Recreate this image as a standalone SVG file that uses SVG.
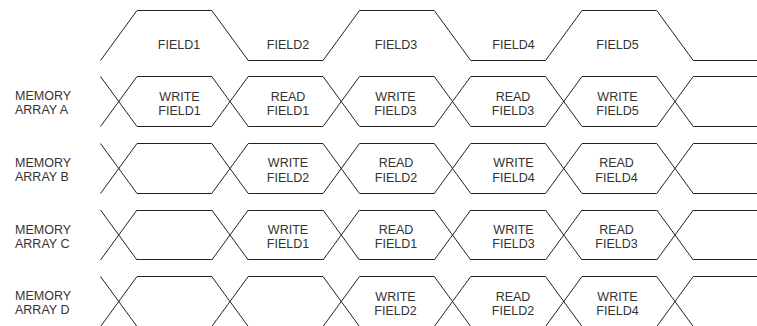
<svg xmlns="http://www.w3.org/2000/svg" width="757" height="326" viewBox="0 0 757 326">
<style>
.w{fill:none;stroke:#222;stroke-width:1;stroke-linejoin:miter}
.t{font-family:"Liberation Sans",Arial,sans-serif;font-size:12.5px;fill:#333}
.c{text-anchor:middle}
</style>
<rect width="757" height="326" fill="#fff"/>
<g id="field-signal">
<path class="w" d="M100.5,60.5 L137,10.5 L211.75,10.5 L248.25,60.5 L323,60.5 L359.5,10.5 L434.25,10.5 L470.75,60.5 L545.5,60.5 L582,10.5 L656.75,10.5 L693.25,60.5 L757,60.5"/>
<g class="t c">
<text x="179" y="49">FIELD1</text>
<text x="288" y="49">FIELD2</text>
<text x="396" y="49">FIELD3</text>
<text x="513.5" y="49">FIELD4</text>
<text x="617.5" y="49">FIELD5</text>
</g>
</g>
<g id="array-a">
<path class="w" d="M100.5,76.5 L137,126.5 M100.5,126.5 L137,76.5 M211.75,76.5 L248.25,126.5 M211.75,126.5 L248.25,76.5 M323,76.5 L359.5,126.5 M323,126.5 L359.5,76.5 M434.25,76.5 L470.75,126.5 M434.25,126.5 L470.75,76.5 M545.5,76.5 L582,126.5 M545.5,126.5 L582,76.5 M656.75,76.5 L693.25,126.5 M656.75,126.5 L693.25,76.5 M137,76.5 H211.75 M248.25,76.5 H323 M359.5,76.5 H434.25 M470.75,76.5 H545.5 M582,76.5 H656.75 M693.25,76.5 H757 M137,126.5 H211.75 M248.25,126.5 H323 M359.5,126.5 H434.25 M470.75,126.5 H545.5 M582,126.5 H656.75 M693.25,126.5 H757"/>
<text class="t" x="15" y="100">MEMORY</text>
<text class="t" x="15" y="114">ARRAY A</text>
<g class="t c">
<text x="179.5" y="100.5">WRITE</text><text x="179.5" y="114.5">FIELD1</text>
<text x="288" y="100.5">READ</text><text x="288" y="114.5">FIELD1</text>
<text x="395.5" y="100.5">WRITE</text><text x="395.5" y="114.5">FIELD3</text>
<text x="513" y="100.5">READ</text><text x="513" y="114.5">FIELD3</text>
<text x="617.5" y="100.5">WRITE</text><text x="617.5" y="114.5">FIELD5</text>
</g>
</g>
<g id="array-b">
<path class="w" d="M100.5,143.5 L137,193.5 M100.5,193.5 L137,143.5 M211.75,143.5 L248.25,193.5 M211.75,193.5 L248.25,143.5 M323,143.5 L359.5,193.5 M323,193.5 L359.5,143.5 M434.25,143.5 L470.75,193.5 M434.25,193.5 L470.75,143.5 M545.5,143.5 L582,193.5 M545.5,193.5 L582,143.5 M656.75,143.5 L693.25,193.5 M656.75,193.5 L693.25,143.5 M137,143.5 H211.75 M248.25,143.5 H323 M359.5,143.5 H434.25 M470.75,143.5 H545.5 M582,143.5 H656.75 M693.25,143.5 H757 M137,193.5 H211.75 M248.25,193.5 H323 M359.5,193.5 H434.25 M470.75,193.5 H545.5 M582,193.5 H656.75 M693.25,193.5 H757"/>
<text class="t" x="15" y="167">MEMORY</text>
<text class="t" x="15" y="181">ARRAY B</text>
<g class="t c">
<text x="288" y="167.3">WRITE</text><text x="288" y="181.5">FIELD2</text>
<text x="396" y="167.3">READ</text><text x="396" y="181.5">FIELD2</text>
<text x="513.5" y="167.3">WRITE</text><text x="513.5" y="181.5">FIELD4</text>
<text x="616.5" y="167.3">READ</text><text x="616.5" y="181.5">FIELD4</text>
</g>
</g>
<g id="array-c">
<path class="w" d="M100.5,210 L137,260 M100.5,260 L137,210 M211.75,210 L248.25,260 M211.75,260 L248.25,210 M323,210 L359.5,260 M323,260 L359.5,210 M434.25,210 L470.75,260 M434.25,260 L470.75,210 M545.5,210 L582,260 M545.5,260 L582,210 M656.75,210 L693.25,260 M656.75,260 L693.25,210 M137,210.5 H211.75 M248.25,210.5 H323 M359.5,210.5 H434.25 M470.75,210.5 H545.5 M582,210.5 H656.75 M693.25,210.5 H757 M137,259.5 H211.75 M248.25,259.5 H323 M359.5,259.5 H434.25 M470.75,259.5 H545.5 M582,259.5 H656.75 M693.25,259.5 H757"/>
<text class="t" x="15" y="233.5">MEMORY</text>
<text class="t" x="15" y="247.5">ARRAY C</text>
<g class="t c">
<text x="288" y="234">WRITE</text><text x="288" y="248">FIELD1</text>
<text x="396" y="234">READ</text><text x="396" y="248">FIELD1</text>
<text x="513.5" y="234">WRITE</text><text x="513.5" y="248">FIELD3</text>
<text x="616.5" y="234">READ</text><text x="616.5" y="248">FIELD3</text>
</g>
</g>
<g id="array-d">
<path class="w" d="M100.5,276.5 L137,326.5 M100.5,326.5 L137,276.5 M211.75,276.5 L248.25,326.5 M211.75,326.5 L248.25,276.5 M323,276.5 L359.5,326.5 M323,326.5 L359.5,276.5 M434.25,276.5 L470.75,326.5 M434.25,326.5 L470.75,276.5 M545.5,276.5 L582,326.5 M545.5,326.5 L582,276.5 M656.75,276.5 L693.25,326.5 M656.75,326.5 L693.25,276.5 M137,276.5 H211.75 M248.25,276.5 H323 M359.5,276.5 H434.25 M470.75,276.5 H545.5 M582,276.5 H656.75 M693.25,276.5 H757"/>
<text class="t" x="15" y="300">MEMORY</text>
<text class="t" x="15" y="314">ARRAY D</text>
<g class="t c">
<text x="395.5" y="300.5">WRITE</text><text x="395.5" y="314.5">FIELD2</text>
<text x="513" y="300.5">READ</text><text x="513" y="314.5">FIELD2</text>
<text x="617.5" y="300.5">WRITE</text><text x="617.5" y="314.5">FIELD4</text>
</g>
</g>
</svg>
